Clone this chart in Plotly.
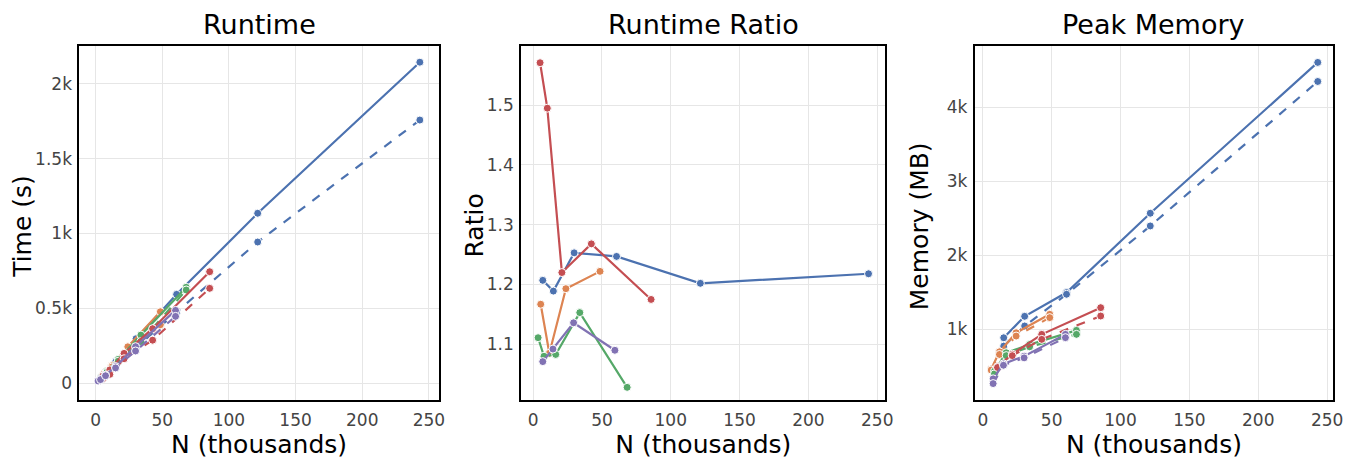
import plotly.graph_objects as go

# ---- data -------------------------------------------------------------
# colour per configuration
colors = ["#4c72b0", "#dd8452", "#55a868", "#c44e52", "#8172b3"]

# runtime (s): N in thousands, solid = baseline, dashed = optimised
rt_n = [
    [7.6, 15.2, 30.4, 60.8, 121.6, 243.2],
    [6.1, 12.1, 24.2, 48.6],
    [4.25, 8.5, 17.0, 34.0, 68.0],
    [5.35, 10.7, 21.4, 42.8, 85.6],
    [1.9, 3.75, 7.5, 15.0, 30.0, 60.0],
]
rt_solid = [
    [72, 146, 298, 594, 1135, 2143],
    [62, 117, 244, 478],
    [40, 80, 160, 322, 641],
    [48, 90, 200, 365, 745],
    [18, 27, 55, 112, 245, 487],
]
rt_dashed = [
    [60, 123, 238, 476, 943, 1757],
    [53, 108, 205, 391],
    [36, 74, 148, 279, 623],
    [30, 60, 164, 288, 634],
    [16, 25, 51, 103, 216, 447],
]

# runtime ratio (solid / dashed)
ratio_n = [
    [7.0, 14.7, 29.8, 60.6, 121.5, 243.7],
    [5.5, 11.8, 23.8, 48.6],
    [3.6, 7.9, 16.4, 33.9, 68.3],
    [5.05, 10.3, 20.9, 42.3, 85.7],
    [7.0, 14.4, 29.4, 59.4],
]
ratio_vals = [
    [1.207, 1.189, 1.253, 1.247, 1.202, 1.218],
    [1.167, 1.085, 1.193, 1.222],
    [1.111, 1.080, 1.083, 1.153, 1.028],
    [1.571, 1.495, 1.220, 1.268, 1.175],
    [1.071, 1.092, 1.136, 1.090],
]

# peak memory (MB)
mem_n = [
    [15.2, 30.4, 60.8, 121.6, 243.2],
    [6.1, 12.1, 24.2, 48.6],
    [8.5, 17.0, 34.0, 68.0],
    [10.7, 21.4, 42.8, 85.6],
    [7.5, 15.0, 30.0, 60.0],
]
mem_solid = [
    [882, 1172, 1493, 2566, 4606],
    [460, 692, 950, 1199],
    [430, 679, 790, 982],
    [489, 660, 928, 1289],
    [326, 529, 633, 928],
]
mem_dashed = [
    [769, 1041, 1470, 2394, 4348],
    [445, 656, 905, 1154],
    [394, 640, 760, 928],
    [480, 640, 860, 1176],
    [262, 510, 610, 883],
]

x_ticks = [0, 50, 100, 150, 200, 250]
rt_ticks = [0, 500, 1000, 1500, 2000]
rt_tick_text = ["0", "0.5k", "1k", "1.5k", "2k"]
ratio_ticks = [1.1, 1.2, 1.3, 1.4, 1.5]
mem_ticks = [1000, 2000, 3000, 4000]
mem_tick_text = ["1k", "2k", "3k", "4k"]

titles = ["Runtime", "Runtime Ratio", "Peak Memory"]
y_titles = ["Time (s)", "Ratio", "Memory (MB)"]

# ---- figure -----------------------------------------------------------
W, H = 1366, 463
FONT = "DejaVu Sans"

# plot areas in pixels: (left, right, top, bottom)
boxes = [(80, 442, 46, 400), (525, 892, 46, 400), (982, 1343, 46, 400)]
# horizontal centre of each rotated y-axis title, in pixels
y_title_x = [22, 477, 926]

fig = go.Figure()


def add_line(xs, ys, color, dash, axis):
    fig.add_trace(go.Scatter(
        x=xs, y=ys, mode="lines+markers",
        line=dict(color=color, width=2.2, dash=dash),
        marker=dict(size=8, color=color, line=dict(color="white", width=1)),
        xaxis="x" + axis, yaxis="y" + axis, showlegend=False,
    ))


for i, c in enumerate(colors):
    add_line(rt_n[i], rt_solid[i], c, "solid", "")
    add_line(rt_n[i], rt_dashed[i], c, "dash", "")
for i, c in enumerate(colors):
    add_line(ratio_n[i], ratio_vals[i], c, "solid", "2")
for i, c in enumerate(colors):
    add_line(mem_n[i], mem_solid[i], c, "solid", "3")
    add_line(mem_n[i], mem_dashed[i], c, "dash", "3")

axis_common = dict(
    showgrid=True, gridcolor="#e6e6e6", gridwidth=1,
    showline=True, linecolor="black", linewidth=2, mirror=True,
    zeroline=False, ticks="",
    tickfont=dict(family=FONT, size=17, color="#444"),
)

y_ranges = [[-111, 2251], [1.0068, 1.599], [40, 4828]]
x_ranges = [[-12.1, 257.4], [-8.7, 256.0], [-5.8, 254.4]]
y_tickvals = [rt_ticks, ratio_ticks, mem_ticks]
y_ticktext = [rt_tick_text, [f"{v:.1f}" for v in ratio_ticks], mem_tick_text]

layout = {}
for k, (l, r, t, b) in enumerate(boxes):
    suffix = "" if k == 0 else str(k + 1)
    anchor = "x" if k == 0 else "x" + str(k + 1)
    yanchor = "y" if k == 0 else "y" + str(k + 1)
    layout["xaxis" + suffix] = dict(
        axis_common,
        domain=[l / W, r / W], anchor=yanchor,
        range=x_ranges[k], tickvals=x_ticks,
        ticklabelstandoff=4,
        title=dict(text="N (thousands)", standoff=6,
                   font=dict(family=FONT, size=25, color="black")),
    )
    layout["yaxis" + suffix] = dict(
        axis_common,
        domain=[1 - b / H, 1 - t / H], anchor=anchor,
        range=y_ranges[k], tickvals=y_tickvals[k], ticktext=y_ticktext[k],
        ticklabelstandoff=2,
    )

annotations = []
for k, (l, r, t, b) in enumerate(boxes):
    annotations.append(dict(
        text=titles[k], xref="paper", yref="paper",
        x=(l + r) / 2 / W, y=1 - 25 / H, xanchor="center", yanchor="middle",
        showarrow=False, font=dict(family=FONT, size=27, color="black"),
    ))
    annotations.append(dict(
        text=y_titles[k], xref="paper", yref="paper", textangle=-90,
        x=y_title_x[k] / W, y=1 - 226 / H, xanchor="center", yanchor="middle",
        showarrow=False, font=dict(family=FONT, size=25, color="black"),
    ))

fig.update_layout(
    width=W, height=H,
    margin=dict(l=0, r=0, t=0, b=0),
    paper_bgcolor="white", plot_bgcolor="white",
    annotations=annotations,
    **layout,
)

fig.write_html("out.html")
